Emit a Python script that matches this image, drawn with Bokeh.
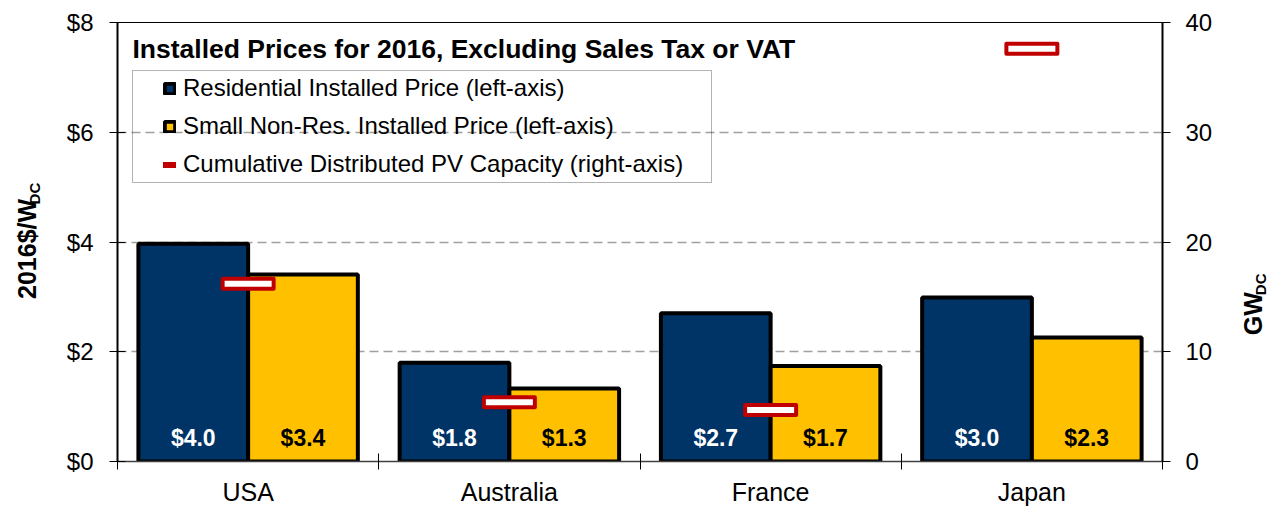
import math
from bokeh.plotting import figure
from bokeh.layouts import row
from bokeh.models import (Range1d, LinearAxis, FixedTicker, Label, Legend, LegendItem,
                          BoxAnnotation, ColumnDataSource, PrintfTickFormatter)
from bokeh.transform import dodge
from bokeh.core.properties import value
from bokeh.embed import file_html
from bokeh.resources import INLINE

# ---- data ----
countries = ["USA", "Australia", "France", "Japan"]
residential = [3.97, 1.80, 2.70, 2.99]          # 2016$/W_DC
small_nonres = [3.41, 1.33, 1.74, 2.26]         # 2016$/W_DC
capacity_gw = [16.2, 5.4, 4.7, 37.6]            # GW_DC
left_ticks = [0, 2, 4, 6, 8]
right_ticks = [0, 10, 20, 30, 40]
title_text = "Installed Prices for 2016, Excluding Sales Tax or VAT"
legend_labels = ["Residential Installed Price (left-axis)",
                 "Small Non-Res. Installed Price (left-axis)",
                 "Cumulative Distributed PV Capacity (right-axis)"]
left_title, right_title, unit_sub = "2016$/W", "GW", "DC"

FONT = "Liberation Sans"
NAVY = "#003366"
GOLD = "#FFC000"
RED = "#C00000"

H = 508
LW, RW = 50, 56
MW = 1278 - LW - RW

centers = [i + 0.5 for i in range(len(countries))]
src = ColumnDataSource(dict(
    x=centers, res=residential, sm=small_nonres, cap=capacity_gw,
    res_lbl=[f"${v:.1f}" for v in residential],
    sm_lbl=[f"${v:.1f}" for v in small_nonres],
))

p = figure(width=MW, height=H, x_range=Range1d(0, len(countries)),
           y_range=Range1d(left_ticks[0], left_ticks[-1]),
           output_backend="svg", toolbar_location=None,
           min_border_left=117 - LW, min_border_right=(LW + MW) - 1162,
           min_border_top=22, min_border_bottom=H - 461)
p.extra_y_ranges = {"gw": Range1d(right_ticks[0], right_ticks[-1])}
p.outline_line_color = "black"
p.outline_line_width = 1

# x axis: labels at centers, ticks at boundaries
xa = p.xaxis[0]
xa.ticker = FixedTicker(ticks=centers, minor_ticks=list(range(len(countries) + 1)))
xa.major_label_overrides = {c: n for c, n in zip(centers, countries)}
xa.major_tick_in = 0
xa.major_tick_out = 0
xa.minor_tick_in = 8
xa.minor_tick_out = 8
xa.minor_tick_line_color = "black"
xa.minor_tick_line_width = 1
xa.axis_line_color = "#404040"
xa.axis_line_width = 1.5
xa.major_label_text_font = FONT
xa.major_label_text_font_size = "25px"
xa.major_label_text_color = "black"
xa.major_label_standoff = 8

# left axis
ya = p.yaxis[0]
ya.ticker = FixedTicker(ticks=left_ticks)
ya.formatter = PrintfTickFormatter(format="$%d")
ya.major_tick_in = 8
ya.major_tick_out = 8
ya.major_tick_line_color = "black"
ya.minor_tick_line_color = None
ya.axis_line_width = 2
ya.axis_line_color = "black"
ya.major_label_text_font = FONT
ya.major_label_text_font_size = "24px"
ya.major_label_text_color = "black"
ya.major_label_standoff = 16

# right axis
ra = LinearAxis(y_range_name="gw", ticker=FixedTicker(ticks=right_ticks))
ra.major_tick_in = 0
ra.major_tick_out = 8
ra.major_tick_line_color = "black"
ra.minor_tick_line_color = None
ra.axis_line_width = 2
ra.axis_line_color = "black"
ra.major_label_text_font = FONT
ra.major_label_text_font_size = "24px"
ra.major_label_text_color = "black"
ra.major_label_standoff = 15
p.add_layout(ra, "right")

# grid
p.xgrid.visible = False
p.ygrid.ticker = FixedTicker(ticks=left_ticks[1:-1])
p.ygrid.grid_line_color = "#A0A0A0"
p.ygrid.grid_line_dash = "9 5"
p.ygrid.grid_line_width = 1.5

# bars
r_res = p.vbar(x=dodge("x", -0.21), top="res", width=0.42, source=src,
               fill_color=NAVY, line_color="black", line_width=4)
r_sm = p.vbar(x=dodge("x", 0.21), top="sm", width=0.42, source=src,
              fill_color=GOLD, line_color="black", line_width=4)

# bar labels
p.text(x=dodge("x", -0.21), y=0, text="res_lbl", source=src, text_color="white",
       text_font=value(FONT), text_font_style="bold", text_font_size="23px",
       text_align="center", text_baseline="middle", y_offset=-24)
p.text(x=dodge("x", 0.21), y=0, text="sm_lbl", source=src, text_color="black",
       text_font=value(FONT), text_font_style="bold", text_font_size="23px",
       text_align="center", text_baseline="middle", y_offset=-24)

# capacity markers (right axis)
p.rect(x="x", y="cap", width=51, height=10, width_units="screen", height_units="screen",
       y_range_name="gw", source=src, fill_color="white", line_color=RED, line_width=4,
       line_join="round")

# legend proxy for capacity (off-screen data)
r_cap = p.line(x=[-10, -9], y=[-10, -10], line_color=RED, line_width=6, line_cap="round")

legend = Legend(items=[LegendItem(label=legend_labels[0], renderers=[r_res]),
                       LegendItem(label=legend_labels[1], renderers=[r_sm]),
                       LegendItem(label=legend_labels[2], renderers=[r_cap])],
                location=(46, 282), orientation="vertical", padding=0, spacing=8,
                glyph_width=13, glyph_height=13, label_height=30, label_standoff=7,
                label_text_font=FONT, label_text_font_size="24px",
                label_text_color="black",
                border_line_color=None, background_fill_alpha=0)
p.add_layout(legend)

# legend frame
p.add_layout(BoxAnnotation(left=0.0574, right=2.2737, bottom=5.084, top=7.125,
                           fill_alpha=0, line_color="black", line_width=1))

# title inside plot
p.add_layout(Label(x=15, y=413, x_units="screen", y_units="screen", text=title_text,
                   text_font=FONT, text_font_style="bold", text_font_size="26.5px",
                   text_baseline="middle", text_align="left", text_color="black"))


def side_fig(width):
    f = figure(width=width, height=H, x_range=Range1d(0, width), y_range=Range1d(H, 0),
               output_backend="svg", toolbar_location=None,
               x_axis_type=None, y_axis_type=None,
               min_border_left=0, min_border_right=0, min_border_top=0, min_border_bottom=0)
    f.outline_line_color = None
    f.xgrid.visible = False
    f.ygrid.visible = False
    return f


def vlabel(f, x, y, txt, size):
    f.text(x=[x], y=[y], text=[txt], angle=math.pi / 2, text_font=value(FONT),
           text_font_style="bold", text_font_size=size, text_color="black",
           text_align="center", text_baseline="middle")


lf = side_fig(LW)
vlabel(lf, 26, 262, left_title, "25px")
vlabel(lf, 34, 198, unit_sub, "15px")

rf = side_fig(RW)
vlabel(rf, 30, 337, right_title, "25px")
vlabel(rf, 38, 303, unit_sub, "15px")

layout = row(lf, p, rf, spacing=0)
open("out.html", "w").write(file_html(layout, INLINE))
